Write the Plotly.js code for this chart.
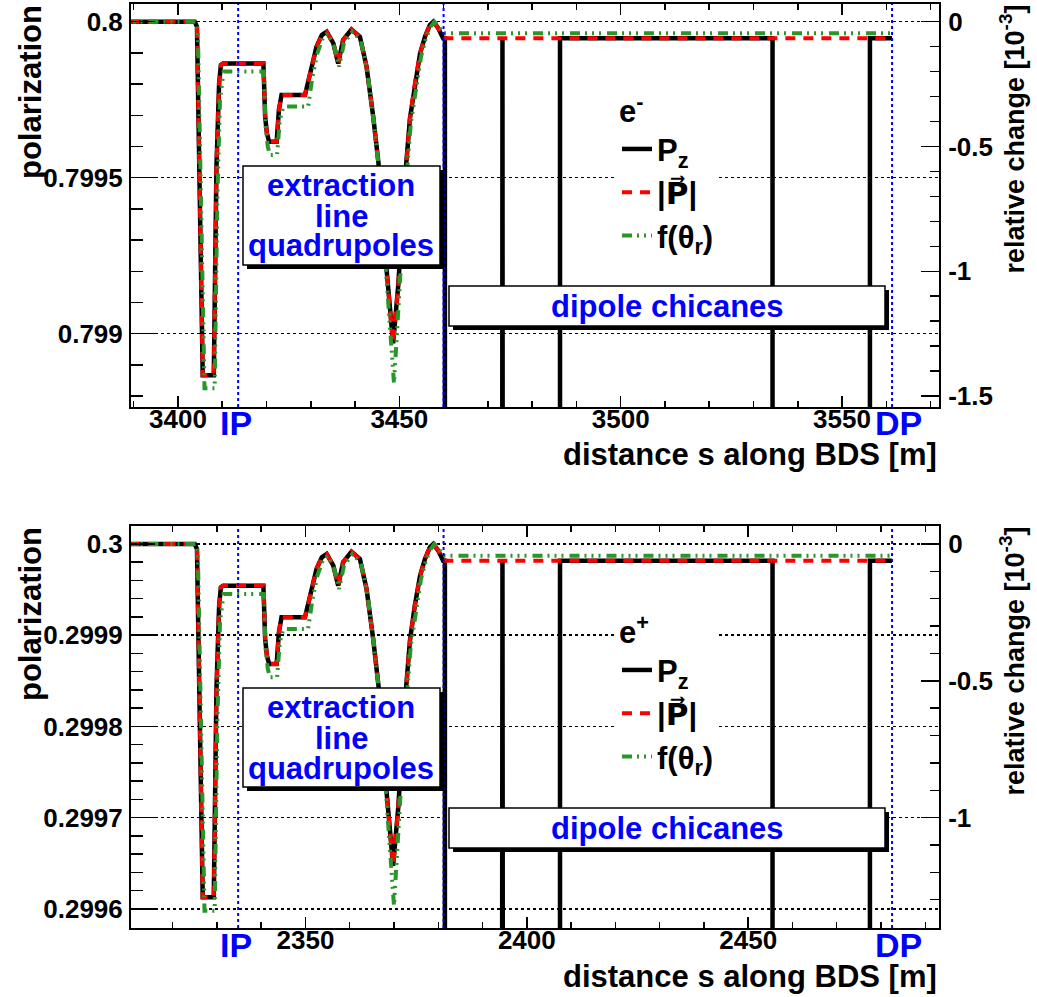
<!DOCTYPE html>
<html>
<head>
<meta charset="utf-8">
<script src="https://cdn.plot.ly/plotly-3.0.1.min.js"></script>
<style>html,body{margin:0;padding:0;background:#fff;}#chart{width:1037px;height:997px;}</style>
</head>
<body>
<div id="chart"></div>
<script>
// ---------------- data ----------------
// e- : distance s [m] along BDS and polarization (common part of Pz and |P| before the chicanes)
const sCurveEm = [3385, 3403.8, 3404.3, 3404.6, 3405.0, 3405.3, 3405.6, 3408.1, 3408.7, 3409.3, 3409.7, 3410.2, 3419.3, 3419.7, 3420.1, 3420.6, 3422.3, 3422.8, 3423.4, 3428.7, 3430.2, 3431.3, 3432.5, 3433.6, 3435.1, 3436.2, 3437.3, 3439.2, 3441.1, 3442.6, 3444.1, 3445.3, 3446.4, 3447.5, 3448.6, 3449.8, 3450.9, 3452.4, 3453.5, 3454.7, 3455.8, 3456.9, 3457.7, 3458.8, 3459.9];
const pCurveEm = [0.8, 0.8, 0.799984, 0.799749, 0.799428, 0.799108, 0.798867, 0.798867, 0.799535, 0.799802, 0.799861, 0.799866, 0.799866, 0.799696, 0.799642, 0.799615, 0.799615, 0.799717, 0.799765, 0.799765, 0.799856, 0.79992, 0.799957, 0.799968, 0.799931, 0.799866, 0.799941, 0.799975, 0.799952, 0.799856, 0.799696, 0.799546, 0.799322, 0.799129, 0.798969, 0.799161, 0.799429, 0.79969, 0.799802, 0.799899, 0.799952, 0.799989, 0.8, 0.799979, 0.799947];
// Pz inside the dipole chicanes (drops far below the frame)
const sChicaneEm = [3460.3, 3460.3, 3473.2, 3473.3, 3473.4, 3486.3, 3486.3, 3534.3, 3534.3, 3556.3, 3556.3, 3561.3];
const pzChicaneEm = [0.799947, 0.797, 0.797, 0.799947, 0.797, 0.797, 0.799947, 0.799947, 0.797, 0.797, 0.799947, 0.799947];
// |P| after the chicane start
const sAbsEndEm = [3561.3];
const pAbsEndEm = [0.799947];
// f(theta_r)
const sFEm = [3385, 3404.0, 3404.5, 3404.9, 3405.3, 3405.7, 3406.0, 3408.3, 3408.9, 3409.5, 3410.3, 3419.4, 3419.8, 3420.3, 3420.8, 3422.4, 3423.0, 3423.8, 3429.4, 3430.4, 3431.5, 3432.7, 3433.8, 3435.3, 3436.4, 3437.5, 3439.4, 3441.3, 3442.8, 3444.3, 3445.5, 3446.6, 3447.7, 3448.8, 3450.0, 3451.1, 3452.6, 3453.7, 3454.9, 3456.0, 3457.1, 3457.9, 3459.0, 3459.9, 3561.3];
const pFEm = [0.8, 0.8, 0.799973, 0.799696, 0.799322, 0.799001, 0.798825, 0.798825, 0.799428, 0.799749, 0.79984, 0.79984, 0.799663, 0.799599, 0.799573, 0.799573, 0.799685, 0.799728, 0.799728, 0.799824, 0.799899, 0.799947, 0.799963, 0.79992, 0.799856, 0.799931, 0.799968, 0.799941, 0.79984, 0.799674, 0.799514, 0.799279, 0.799076, 0.798841, 0.799129, 0.799407, 0.799674, 0.799786, 0.799888, 0.799947, 0.799984, 0.8, 0.799984, 0.799963, 0.799963];
const markersEm = [3413.6, 3460.0, 3561.3]; // IP, chicane start, DP

// e+
const sCurveEp = [2306.2, 2325.0, 2325.5, 2325.8, 2326.2, 2326.5, 2326.8, 2329.3, 2329.9, 2330.5, 2330.9, 2331.4, 2340.5, 2340.9, 2341.3, 2341.8, 2343.5, 2344.0, 2344.6, 2349.9, 2351.4, 2352.5, 2353.7, 2354.8, 2356.3, 2357.4, 2358.5, 2360.4, 2362.3, 2363.8, 2365.3, 2366.5, 2367.6, 2368.7, 2369.8, 2371.0, 2372.1, 2373.6, 2374.7, 2375.9, 2377.0, 2378.1, 2378.9, 2380.0, 2381.1];
const pCurveEp = [0.3, 0.3, 0.2999945, 0.2999141, 0.2998045, 0.2996948, 0.2996126, 0.2996126, 0.299841, 0.2999324, 0.2999525, 0.2999543, 0.2999543, 0.2998958, 0.2998776, 0.2998684, 0.2998684, 0.2999031, 0.2999196, 0.2999196, 0.2999507, 0.2999726, 0.2999854, 0.299989, 0.2999762, 0.2999543, 0.2999799, 0.2999916, 0.2999836, 0.2999507, 0.2998958, 0.2998447, 0.2997679, 0.2997021, 0.2996473, 0.2997131, 0.2998045, 0.299894, 0.2999324, 0.2999653, 0.2999836, 0.2999963, 0.3, 0.2999927, 0.2999817];
const sChicaneEp = [2381.5, 2381.5, 2394.4, 2394.5, 2394.6, 2407.5, 2407.5, 2455.5, 2455.5, 2477.5, 2477.5, 2482.5];
const pzChicaneEp = [0.2999817, 0.2994, 0.2994, 0.2999817, 0.2994, 0.2994, 0.2999817, 0.2999817, 0.2994, 0.2994, 0.2999817, 0.2999817];
const sAbsEndEp = [2482.5];
const pAbsEndEp = [0.2999817];
const sFEp = [2306.2, 2325.2, 2325.7, 2326.1, 2326.5, 2326.9, 2327.2, 2329.5, 2330.1, 2330.7, 2331.5, 2340.6, 2341.0, 2341.5, 2342.0, 2343.6, 2344.2, 2345.0, 2350.6, 2351.6, 2352.7, 2353.9, 2355.0, 2356.5, 2357.6, 2358.7, 2360.6, 2362.5, 2364.0, 2365.5, 2366.7, 2367.8, 2368.9, 2370.0, 2371.2, 2372.3, 2373.8, 2374.9, 2376.1, 2377.2, 2378.3, 2379.1, 2380.2, 2381.1, 2482.5];
const pFEp = [0.3, 0.3, 0.2999909, 0.2998958, 0.2997679, 0.2996583, 0.299598, 0.299598, 0.2998045, 0.2999141, 0.2999452, 0.2999452, 0.2998849, 0.2998629, 0.2998538, 0.2998538, 0.2998922, 0.2999068, 0.2999068, 0.2999397, 0.2999653, 0.2999817, 0.2999872, 0.2999726, 0.2999507, 0.2999762, 0.299989, 0.2999799, 0.2999452, 0.2998885, 0.2998337, 0.2997533, 0.2996838, 0.2996034, 0.2997021, 0.2997971, 0.2998885, 0.2999269, 0.2999616, 0.2999817, 0.2999945, 0.3, 0.2999945, 0.2999872, 0.2999872];
const markersEp = [2334.8, 2381.2, 2482.5];

// tick labels
const xTicksEm = [3400, 3450, 3500, 3550];
const xTicksEp = [2350, 2400, 2450];
const yTicksEm = [0.799, 0.7995, 0.8];
const yTickTextEm = ['0.799', '0.7995', '0.8'];
const yTicksEp = [0.2996, 0.2997, 0.2998, 0.2999, 0.3];
const yTickTextEp = ['0.2996', '0.2997', '0.2998', '0.2999', '0.3'];
const relTicksEm = [-1.5, -1, -0.5, 0];
const relTickTextEm = ['-1.5', '-1', '-0.5', '0'];
const relTicksEp = [-1, -0.5, 0];
const relTickTextEp = ['-1', '-0.5', '0'];
const seriesNames = ['P<sub>z</sub>', '|<span style="font-family:DejaVu Sans">P\u20D7</span>|', 'f(\u03B8<sub>r</sub>)'];
const legendTitles = ['e<sup>-</sup>', 'e<sup>+</sup>'];
const nominalPol = [0.8, 0.3];

// ---------------- layout helpers ----------------
const L = 131, R = 939, T = 4, B = 928;
const px = x => (x - L) / (R - L);
const py = y => (B - y) / (B - T);
const FONT = 'Liberation Sans, Arial, sans-serif';
const BLUE = 'rgb(0,0,255)';
const RED = 'rgb(255,0,0)';
const GREEN = 'rgb(40,150,40)';

function traces(sC, pC, sCh, pzCh, sAE, pAE, sF, pF, xa, ya, leg) {
  return [
    {x: sC.concat(sCh), y: pC.concat(pzCh), xaxis: xa, yaxis: ya, mode: 'lines', name: seriesNames[0],
     line: {color: 'black', width: 4.5}, legend: leg, legendgroup: leg + 'a'},
    {x: sC.concat(sAE), y: pC.concat(pAE), xaxis: xa, yaxis: ya, mode: 'lines', name: seriesNames[1],
     line: {color: RED, width: 4, dash: '10px,8px'}, legend: leg, legendgroup: leg + 'b'},
    {x: sF, y: pF, xaxis: xa, yaxis: ya, mode: 'lines', name: seriesNames[2],
     line: {color: GREEN, width: 4, dash: '10px,5px,2px,5px,2px,5px,2px,6px'}, legend: leg, legendgroup: leg + 'c'}
  ];
}

const data = [].concat(
  traces(sCurveEm, pCurveEm, sChicaneEm, pzChicaneEm, sAbsEndEm, pAbsEndEm, sFEm, pFEm, 'x', 'y', 'legend'),
  traces(sCurveEp, pCurveEp, sChicaneEp, pzChicaneEp, sAbsEndEp, pAbsEndEp, sFEp, pFEp, 'x2', 'y3', 'legend2'),
  // empty carriers so that the right-hand "relative change" axes are drawn
  [{x: [null], y: [null], xaxis: 'x', yaxis: 'y2', mode: 'lines', showlegend: false, hoverinfo: 'skip'},
   {x: [null], y: [null], xaxis: 'x2', yaxis: 'y4', mode: 'lines', showlegend: false, hoverinfo: 'skip'}]
);

const tickFont = {family: FONT, size: 26, color: 'black', weight: 'bold'};

function xAxis(anchor, range, ticks) {
  return {anchor: anchor, domain: [0, 1], range: range, tickmode: 'array', tickvals: ticks,
    ticks: 'inside', ticklen: 11, tickwidth: 1.5, tickcolor: 'black', mirror: 'ticks',
    showline: true, linewidth: 2, linecolor: 'black', showgrid: false, zeroline: false,
    tickfont: tickFont, ticklabelstandoff: -12,
    minor: {tickmode: 'linear', tick0: 0, dtick: 10, ticks: 'inside', ticklen: 6, tickwidth: 1.5, tickcolor: 'black', showgrid: false}};
}
function yAxis(anchor, domain, range, vals, text, minorDt) {
  return {anchor: anchor, domain: domain, range: range, tickmode: 'array', tickvals: vals, ticktext: text,
    ticks: 'inside', ticklen: 24, tickwidth: 1.5, tickcolor: 'black', mirror: false,
    showline: true, linewidth: 2, linecolor: 'black', zeroline: false,
    showgrid: true, gridcolor: 'black', griddash: 'dot', gridwidth: 1.5,
    tickfont: tickFont, ticklabelstandoff: 1,
    minor: {tickmode: 'linear', tick0: 0, dtick: minorDt, ticks: 'inside', ticklen: 12, tickwidth: 1.5, tickcolor: 'black', showgrid: false}};
}
function relAxis(over, anchor, pRange, p0, vals, text) {
  return {overlaying: over, anchor: anchor, side: 'right', visible: true,
    range: [(pRange[0] - p0) / p0 * 1000, (pRange[1] - p0) / p0 * 1000],
    tickmode: 'array', tickvals: vals, ticktext: text,
    ticks: 'inside', ticklen: 18, tickwidth: 1.5, tickcolor: 'black',
    showline: true, linewidth: 2, linecolor: 'black', showgrid: false, zeroline: false,
    tickfont: tickFont, ticklabelstandoff: 2,
    minor: {tickmode: 'linear', tick0: 0, dtick: 0.1, ticks: 'inside', ticklen: 9, tickwidth: 1.5, tickcolor: 'black', showgrid: false}};
}

const yRangeEm = [0.798765, 0.8000567];
const yRangeEp = [0.299579, 0.3000197];

const shapes = [];
function markerLines(vals, xref, yref) {
  vals.forEach(v => shapes.push({type: 'line', xref: xref, yref: yref + ' domain', x0: v, x1: v, y0: 0, y1: 1,
    line: {color: BLUE, width: 2, dash: 'dot'}, layer: 'above'}));
}
markerLines(markersEm, 'x', 'y');
markerLines(markersEp, 'x2', 'y3');
function box(x0, y0, x1, y1) {
  shapes.push({type: 'rect', xref: 'paper', yref: 'paper', x0: px(x0 + 4), x1: px(x1 + 4), y0: py(y1 + 4), y1: py(y0 + 4),
    fillcolor: 'black', line: {width: 0}, layer: 'above'});
  shapes.push({type: 'rect', xref: 'paper', yref: 'paper', x0: px(x0), x1: px(x1), y0: py(y1), y1: py(y0),
    fillcolor: 'white', line: {color: 'black', width: 1.5}, layer: 'above'});
}
box(243, 166, 440, 265);
box(449, 286, 885, 326);
box(243, 688, 440, 787);
box(449, 808, 885, 848);

const annotations = [];
function txt(t, x, y, opts) {
  annotations.push(Object.assign({text: t, xref: 'paper', yref: 'paper', x: px(x), y: py(y), showarrow: false,
    xanchor: 'center', yanchor: 'middle', font: {family: FONT, size: 31, color: BLUE, weight: 'bold'}}, opts || {}));
}
[0, 522].forEach(dy => {
  txt('extraction', 341, 185 + dy);
  txt('line', 341, 216 + dy);
  txt('quadrupoles', 341, 246 + dy);
  txt('dipole chicanes', 667, 306 + dy);
  // axis titles
  txt('distance s along BDS [m]', 939, 454 + dy, {xanchor: 'right', font: {family: FONT, size: 31, color: 'black', weight: 'bold'}});
  txt('polarization', 30, 3 + dy, {yanchor: 'top', textangle: -90, font: {family: FONT, size: 31, color: 'black', weight: 'bold'}});
  txt('relative change [10<sup>-3</sup>]', 1012, 3 + dy, {yanchor: 'top', textangle: -90, font: {family: FONT, size: 27, color: 'black', weight: 'bold'}});
});
[[markersEm, 'x', 407], [markersEp, 'x2', 929]].forEach(([m, xr, yb]) => {
  annotations.push({text: 'IP', xref: xr, x: m[0], yref: 'paper', y: py(yb), yanchor: 'top', xanchor: 'center', xshift: -2, yshift: 5,
    showarrow: false, font: {family: FONT, size: 34, color: BLUE, weight: 'bold'}});
  annotations.push({text: 'DP', xref: xr, x: m[2], yref: 'paper', y: py(yb), yanchor: 'top', xanchor: 'center', xshift: 6, yshift: 5,
    showarrow: false, font: {family: FONT, size: 34, color: BLUE, weight: 'bold'}});
});

function legendCfg(title, yTop) {
  return {x: px(617), y: py(yTop), xanchor: 'left', yanchor: 'top', bgcolor: 'white', borderwidth: 0,
    font: {family: FONT, size: 31, color: 'black', weight: 'bold'}, tracegroupgap: 0, itemwidth: 30,
    title: {text: title, font: {family: FONT, size: 31, color: 'black', weight: 'bold'}}};
}

const layout = {
  width: 1037, height: 997,
  margin: {l: L, r: 1037 - R, t: T, b: 997 - B},
  paper_bgcolor: 'white', plot_bgcolor: 'white',
  font: {family: FONT, color: 'black', weight: 'bold'},
  xaxis: xAxis('y', [3389.4, 3571.9], xTicksEm),
  yaxis: yAxis('x', [py(407), 1], yRangeEm, yTicksEm, yTickTextEm, 0.0001),
  yaxis2: relAxis('y', 'x', yRangeEm, nominalPol[0], relTicksEm, relTickTextEm),
  xaxis2: xAxis('y3', [2310.6, 2493.1], xTicksEp),
  yaxis3: yAxis('x2', [0, py(526)], yRangeEp, yTicksEp, yTickTextEp, 0.00002),
  yaxis4: relAxis('y3', 'x2', yRangeEp, nominalPol[1], relTicksEp, relTickTextEp),
  showlegend: true,
  legend: legendCfg(legendTitles[0], 82),
  legend2: legendCfg(legendTitles[1], 603),
  shapes: shapes,
  annotations: annotations
};

Plotly.newPlot('chart', data, layout, {displayModeBar: false, staticPlot: true});
</script>
</body>
</html>
